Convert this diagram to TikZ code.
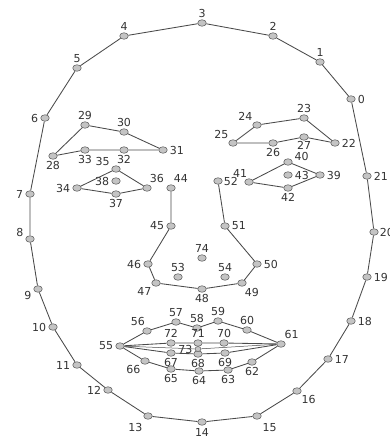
\documentclass[tikz,border=0pt]{standalone}
\usepackage{fontspec}
\setmainfont{DejaVu Sans}
\usepackage{tikz}
\usetikzlibrary{shapes.geometric}
\definecolor{edgegray}{HTML}{4A4A4A}
\definecolor{dotgray}{HTML}{C4C4C4}
\definecolor{rimgray}{HTML}{666666}
\definecolor{numgray}{HTML}{333333}

\begin{document}
\begin{tikzpicture}[x=1pt, y=-1pt, line width=0.85pt,
  pt/.style={ellipse, draw=rimgray, fill=dotgray, line width=0.6pt, minimum width=8.5pt, minimum height=6.5pt, inner sep=0pt},
  lbl/.style={font=\fontsize{11}{13}\selectfont, text=numgray, inner sep=0.8pt},
  every label/.style={lbl},
  label distance=1pt,
  wire/.style={draw=edgegray}]
  \useasboundingbox (0,0) rectangle (390,439);

  % jaw and forehead outline
  \node[pt, label={right:0}] (p0) at (351,99) {};
  \node[pt, label={above:1}] (p1) at (320,62) {};
  \node[pt, label={above:2}] (p2) at (273,36) {};
  \node[pt, label={above:3}] (p3) at (202,23) {};
  \node[pt, label={above:4}] (p4) at (124,36) {};
  \node[pt, label={above:5}] (p5) at (77,68) {};
  \node[pt, label={left:6}] (p6) at (45,118) {};
  \node[pt, label={left:7}] (p7) at (30,194) {};
  \node[pt, label={170:8}] (p8) at (30,239) {};
  \node[pt, label={190:9}] (p9) at (38,289) {};
  \node[pt, label={left:10}] (p10) at (53,327) {};
  \node[pt, label={left:11}] (p11) at (77,365) {};
  \node[pt, label={left:12}] (p12) at (108,390) {};
  \node[pt, label={[label distance=4pt]-125:13}] (p13) at (148,416) {};
  \node[pt, label={[label distance=2pt]below:14}] (p14) at (202,422) {};
  \node[pt, label={[label distance=4pt]-55:15}] (p15) at (257,416) {};
  \node[pt, label={below right:16}] (p16) at (297,391) {};
  \node[pt, label={right:17}] (p17) at (328,359) {};
  \node[pt, label={right:18}] (p18) at (351,321) {};
  \node[pt, label={right:19}] (p19) at (367,277) {};
  \node[pt, label={[label distance=0pt]right:20}] (p20) at (374,232) {};
  \node[pt, label={right:21}] (p21) at (367,176) {};
  \draw[wire] (p0) -- (p1) -- (p2) -- (p3) -- (p4) -- (p5) -- (p6) -- (p7) -- (p8) -- (p9) -- (p10)
    -- (p11) -- (p12) -- (p13) -- (p14) -- (p15) -- (p16) -- (p17) -- (p18) -- (p19) -- (p20) -- (p21) -- (p0);

  % right brow
  \node[pt, label={right:22}] (p22) at (335,143) {};
  \node[pt, label={above:23}] (p23) at (304,118) {};
  \node[pt, label={above left:24}] (p24) at (257,125) {};
  \node[pt, label={above left:25}] (p25) at (233,143) {};
  \node[pt, label={below:26}] (p26) at (273,143) {};
  \node[pt, label={[label distance=-0.5pt]below:27}] (p27) at (304,137) {};
  \draw[wire] (p25) -- (p24) -- (p23) -- (p22) -- (p27) -- (p26) -- (p25);

  % left brow
  \node[pt, label={below:28}] (p28) at (53,156) {};
  \node[pt, label={above:29}] (p29) at (85,125) {};
  \node[pt, label={above:30}] (p30) at (124,132) {};
  \node[pt, label={right:31}] (p31) at (163,150) {};
  \node[pt, label={below:32}] (p32) at (124,150) {};
  \node[pt, label={below:33}] (p33) at (85,150) {};
  \draw[wire] (p28) -- (p29) -- (p30) -- (p31) -- (p32) -- (p33) -- (p28);

  % left eye
  \node[pt, label={left:34}] (p34) at (77,188) {};
  \node[pt, label={160:35}] (p35) at (116,169) {};
  \node[pt, label={70:36}] (p36) at (147,188) {};
  \node[pt, label={below:37}] (p37) at (116,194) {};
  \node[pt, label={left:38}] (p38) at (116,181) {};
  \draw[wire] (p34) -- (p35) -- (p36) -- (p37) -- (p34);

  % right eye
  \node[pt, label={right:39}] (p39) at (320,175) {};
  \node[pt, label={5:40}] (p40) at (288,162) {};
  \node[pt, label={[label distance=0pt]100:41}] (p41) at (249,182) {};
  \node[pt, label={below:42}] (p42) at (288,188) {};
  \node[pt, label={right:43}] (p43) at (288,175) {};
  \draw[wire] (p41) -- (p40) -- (p39) -- (p42) -- (p41);

  % nose
  \node[pt, label={70:44}] (p44) at (171,188) {};
  \node[pt, label={left:45}] (p45) at (171,226) {};
  \node[pt, label={left:46}] (p46) at (148,264) {};
  \node[pt, label={below left:47}] (p47) at (156,283) {};
  \node[pt, label={below:48}] (p48) at (202,289) {};
  \node[pt, label={-70:49}] (p49) at (242,283) {};
  \node[pt, label={right:50}] (p50) at (257,264) {};
  \node[pt, label={right:51}] (p51) at (225,226) {};
  \node[pt, label={[label distance=0pt]right:52}] (p52) at (218,181) {};
  \node[pt, label={above:53}] (p53) at (178,277) {};
  \node[pt, label={above:54}] (p54) at (225,277) {};
  \node[pt, label={above:74}] (p74) at (202,258) {};
  \draw[wire] (p44) -- (p45) -- (p46) -- (p47) -- (p48) -- (p49) -- (p50) -- (p51) -- (p52);

  % mouth
  \node[pt, label={left:55}] (p55) at (120,346) {};
  \node[pt, label={100:56}] (p56) at (147,331) {};
  \node[pt, label={above:57}] (p57) at (176,322) {};
  \node[pt, label={above:58}] (p58) at (197,328) {};
  \node[pt, label={above:59}] (p59) at (218,321) {};
  \node[pt, label={above:60}] (p60) at (247,330) {};
  \node[pt, label={60:61}] (p61) at (281,344) {};
  \node[pt, label={below:62}] (p62) at (252,362) {};
  \node[pt, label={below:63}] (p63) at (228,370) {};
  \node[pt, label={below:64}] (p64) at (199,371) {};
  \node[pt, label={below:65}] (p65) at (171,369) {};
  \node[pt, label={below left:66}] (p66) at (145,361) {};
  \node[pt, label={below:67}] (p67) at (171,353) {};
  \node[pt, label={below:68}] (p68) at (198,354) {};
  \node[pt, label={below:69}] (p69) at (225,353) {};
  \node[pt, label={above:70}] (p70) at (224,343) {};
  \node[pt, label={above:71}] (p71) at (198,343) {};
  \node[pt, label={above:72}] (p72) at (171,343) {};
  \node[pt, minimum width=6pt, minimum height=5pt, label={left:73}] (p73) at (198,349) {};
  \draw[wire] (p55) -- (p56) -- (p57) -- (p58) -- (p59) -- (p60) -- (p61);
  \draw[wire] (p55) -- (p66) -- (p65) -- (p64) -- (p63) -- (p62) -- (p61);
  \draw[wire] (p55) -- (p72) -- (p71) -- (p70) -- (p61);
  \draw[wire] (p55) -- (p67) -- (p68) -- (p69) -- (p61);
  \draw[wire, line width=0.5pt] (p55) -- (p73) -- (p61);
\end{tikzpicture}
\end{document}
